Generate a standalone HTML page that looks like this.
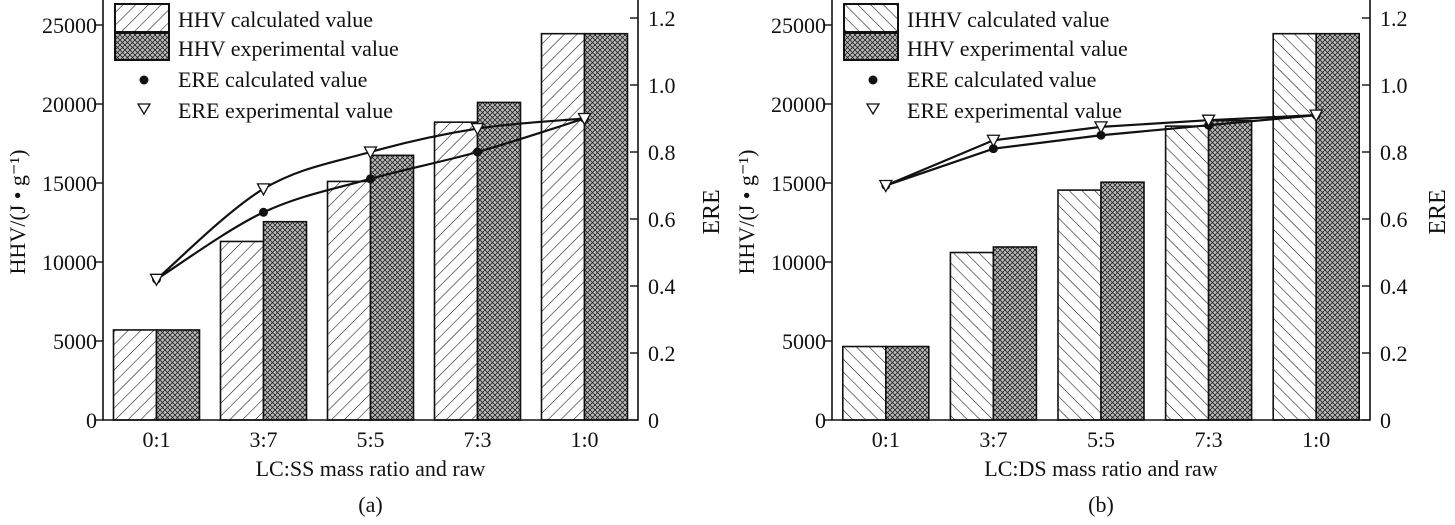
<!DOCTYPE html>
<html><head><meta charset="utf-8"><style>
html,body{margin:0;padding:0;background:#fff}
svg text{font-family:"Liberation Serif",serif;fill:#111}
</style></head><body>
<svg id="c" width="1455" height="520" viewBox="0 0 1455 520" xmlns="http://www.w3.org/2000/svg">
<defs>
<pattern id="hatchF" patternUnits="userSpaceOnUse" width="9" height="9" patternTransform="rotate(45)"><rect width="9" height="9" fill="#fff"/><line x1="0" y1="0" x2="0" y2="9" stroke="#111" stroke-width="1.1"/></pattern>
<pattern id="hatchB" patternUnits="userSpaceOnUse" width="9" height="9" patternTransform="rotate(-45)"><rect width="9" height="9" fill="#fff"/><line x1="0" y1="0" x2="0" y2="9" stroke="#111" stroke-width="1.1"/></pattern>
<pattern id="cross" patternUnits="userSpaceOnUse" width="5" height="5"><rect width="5" height="5" fill="#bbb"/><path d="M0,0L5,5M5,0L0,5" stroke="#222" stroke-width="0.8"/></pattern>
</defs>
</svg>
<script>
const categories = ["0:1","3:7","5:5","7:3","1:0"];
const hhvTicks = [0,5000,10000,15000,20000,25000];
const ereTicks = ["0","0.2","0.4","0.6","0.8","1.0","1.2"];
const aHhvCalc = [5700,11300,15100,18850,24450];
const aHhvExp = [5700,12550,16750,20100,24450];
const aEreCalc = [0.42,0.62,0.72,0.80,0.90];
const aEreExp = [0.42,0.69,0.80,0.87,0.90];
const bHhvCalc = [4650,10600,14550,18600,24450];
const bHhvExp = [4650,10950,15050,18950,24450];
const bEreCalc = [0.70,0.81,0.85,0.88,0.91];
const bEreExp = [0.70,0.835,0.875,0.895,0.91];

const svg=document.getElementById('c');
const NS='http://www.w3.org/2000/svg';
function mk(tag,attrs,parent,text){const e=document.createElementNS(NS,tag);for(const k in attrs)e.setAttribute(k,attrs[k]);if(text!==undefined)e.textContent=text;(parent||svg).appendChild(e);return e;}

function smooth(pts){let d='M'+pts[0][0]+','+pts[0][1];for(let i=0;i<pts.length-1;i++){const p0=pts[i-1]||pts[i],p1=pts[i],p2=pts[i+1],p3=pts[i+2]||p2;
d+=' C'+(p1[0]+(p2[0]-p0[0])/6)+','+(p1[1]+(p2[1]-p0[1])/6)+' '+(p2[0]-(p3[0]-p1[0])/6)+','+(p2[1]-(p3[1]-p1[1])/6)+' '+p2[0]+','+p2[1];}return d;}

function panel(o){
  const g=mk('g',{});
  
  
  const L=o.left,R=o.right,B=420;
  const yH=v=>B-v*(395/25000);
  const yE=v=>B-v*(402/1.2);
  const step=(R-L)/5;
  const xC=i=>L+step*(i+0.5);
  const bw=43;
  const FS=22;
  categories.forEach((c,i)=>{
    const r1=mk('rect',{x:xC(i)-bw,y:yH(o.calc[i]),width:bw,height:B-yH(o.calc[i]),fill:'url(#'+o.hatch+')',stroke:'#111','stroke-width':1.6},g);
    
    
    const r2=mk('rect',{x:xC(i),y:yH(o.exp[i]),width:bw,height:B-yH(o.exp[i]),fill:'url(#cross)',stroke:'#111','stroke-width':1.6},g);
    
    
    const t=mk('text',{x:xC(i),y:447,'font-size':FS,'text-anchor':'middle'},g,c);
    
    
  });
  const pc=o.ereCalc.map((v,i)=>[xC(i),yE(v)]), pe=o.ereExp.map((v,i)=>[xC(i),yE(v)]);
  const dC=o.curve?smooth(pc):'M'+pc.map(p=>p.join(',')).join(' L');
  const dE=o.curve?smooth(pe):'M'+pe.map(p=>p.join(',')).join(' L');
  const l1=mk('path',{d:dC,fill:'none',stroke:'#111','stroke-width':2.2},g);
  
  
  const l2=mk('path',{d:dE,fill:'none',stroke:'#111','stroke-width':2.2},g);
  
  
  pc.forEach(p=>{const m=mk('circle',{cx:p[0],cy:p[1],r:4.5,fill:'#111'},g);
    
    });
  pe.forEach(p=>{const m=mk('path',{d:`M${p[0]-6},${p[1]-5} L${p[0]+6},${p[1]-5} L${p[0]},${p[1]+6} Z`,fill:'#fff',stroke:'#111','stroke-width':1.3},g);
    
    });
  const ax=mk('path',{d:`M${L},0 L${L},${B} L${R},${B} L${R},0`,fill:'none',stroke:'#111','stroke-width':1.6},g);
  
  
  hhvTicks.forEach(v=>{mk('line',{x1:L-7,x2:L,y1:yH(v),y2:yH(v),stroke:'#111','stroke-width':1.4},g);
    const t=mk('text',{x:L-6,y:yH(v)+8,'font-size':FS,'text-anchor':'end'},g,String(v));
    
    });
  ereTicks.forEach(s=>{const y=yE(parseFloat(s));mk('line',{x1:R-8,x2:R,y1:y,y2:y,stroke:'#111','stroke-width':1.4},g);
    const t=mk('text',{x:R+10,y:y+8,'font-size':FS},g,s);
    
    });
  const cx=(L+R)/2;
  const xt=mk('text',{x:cx,y:476,'font-size':FS,'text-anchor':'middle'},g,o.xtitle);
  
  
  const cap=mk('text',{x:cx,y:512,'font-size':FS,'text-anchor':'middle'},g,o.cap);
  
  
  const yt=mk('text',{x:0,y:0,'font-size':FS,'text-anchor':'middle',transform:`translate(${L-78},212) rotate(-90)`},g,'HHV/(J • g⁻¹)');
  
  
  const yr=mk('text',{x:0,y:0,'font-size':24,'text-anchor':'middle',transform:`translate(${R+o.ereOff},212) rotate(-90)`},g,'ERE');
  
  
  const lx=L+12;
  const lg=mk('g',{},g);
  
  
  mk('rect',{x:lx,y:4,width:54,height:28,fill:'url(#'+o.hatch+')',stroke:'#111','stroke-width':2},lg);
  mk('rect',{x:lx,y:33,width:54,height:27,fill:'url(#cross)',stroke:'#111','stroke-width':2},lg);
  mk('circle',{cx:lx+29,cy:80,r:4.5,fill:'#111'},lg);
  mk('path',{d:`M${lx+23},${104} L${lx+35},${104} L${lx+29},${114} Z`,fill:'#fff',stroke:'#111','stroke-width':1.3},lg);
  [[o.l1,27],['HHV experimental value',56],['ERE calculated value',87],['ERE experimental value',118]].forEach(a=>{
    const t=mk('text',{x:lx+63,y:a[1],'font-size':FS},lg,a[0]);
    
    
  });
}
panel({name:'chart-a',left:103,right:638,ereOff:81,calc:aHhvCalc,exp:aHhvExp,ereCalc:aEreCalc,ereExp:aEreExp,hatch:'hatchF',curve:true,xtitle:'LC:SS mass ratio and raw',cap:'(a)',l1:'HHV calculated value'});
panel({name:'chart-b',left:832,right:1370,ereOff:75,calc:bHhvCalc,exp:bHhvExp,ereCalc:bEreCalc,ereExp:bEreExp,hatch:'hatchB',curve:false,xtitle:'LC:DS mass ratio and raw',cap:'(b)',l1:'IHHV calculated value'});
</script>
</body></html>
